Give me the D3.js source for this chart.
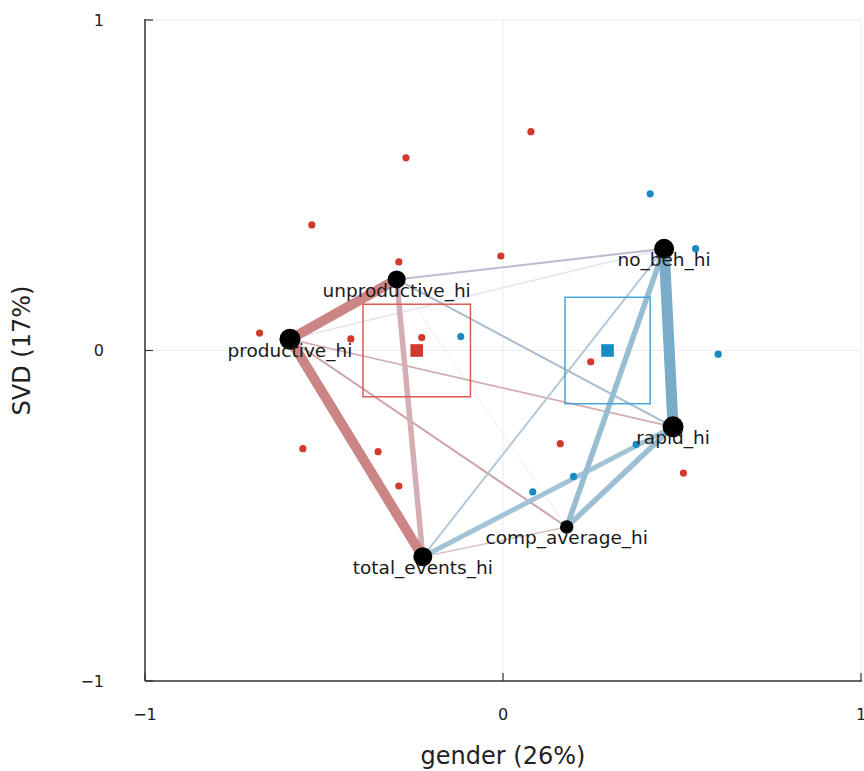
<!DOCTYPE html>
<html>
<head>
<meta charset="utf-8">
<script src="https://cdn.jsdelivr.net/npm/d3@7/dist/d3.min.js"></script>
<style>
  html, body { margin: 0; padding: 0; background: #fff; }
  svg { display: block; font-family: "DejaVu Sans", sans-serif; }
</style>
</head>
<body>
<svg id="chart" width="864" height="771"></svg>
<script>
// ---- data ----
const xTicks = [-1, 0, 1];
const yTicks = [-1, 0, 1];
const xTitle = "gender (26%)";
const yTitle = "SVD (17%)";

// variable nodes: name, x, y, size
const nodeNames = ["productive_hi", "unproductive_hi", "total_events_hi", "comp_average_hi", "rapid_hi", "no_beh_hi"];
const nodeX = [-0.595, -0.297, -0.224, 0.178, 0.475, 0.450];
const nodeY = [0.034, 0.215, -0.624, -0.534, -0.231, 0.308];
const nodeR = [10.5, 9, 9.5, 6.7, 10.5, 10];

// edges: source index, target index, width, colour
const edgeSrc = [0, 0, 1, 0, 0, 2, 1, 0, 1, 1, 2, 2, 3, 3, 5];
const edgeTgt = [1, 2, 2, 3, 4, 3, 5, 5, 4, 3, 5, 4, 5, 4, 4];
const edgeW   = [10, 10, 5.5, 2, 1.6, 1.6, 2, 1.6, 2, 1, 2, 5, 5.5, 5.5, 11];
const edgeCol = ["#cc8585", "#cc8585", "#d4aeb2", "#cca3ab", "#d2abb3", "#dcc2c6",
                 "#b9bdd0", "#e2e6ee", "#a9bccf", "#eceef2", "#b5c8d8", "#a3c3d7",
                 "#98bcd2", "#9cbfd4", "#78acc8"];

// group observations
const redX = [0.078, -0.271, -0.534, -0.291, -0.006, -0.680, -0.425, -0.227, 0.245, -0.559, -0.349, -0.291, 0.160, 0.504];
const redY = [0.662, 0.583, 0.380, 0.268, 0.286, 0.053, 0.035, 0.039, -0.034, -0.297, -0.306, -0.410, -0.282, -0.371];
const blueX = [0.411, 0.538, 0.601, -0.118, 0.372, 0.197, 0.083];
const blueY = [0.474, 0.308, -0.011, 0.042, -0.284, -0.381, -0.428];

// group centroids and boxes
const groupCx = [-0.241, 0.292];
const groupCy = [0.0, 0.0];
const groupHalfW = [0.150, 0.119];
const groupHalfH = [0.140, 0.161];
const groupCol = ["#d0392c", "#1a8ac3"];
const groupBoxCol = ["#dc5a50", "#45a6d6"];

// ---- drawing ----
const svg = d3.select("#chart");
const x = d3.scaleLinear().domain([-1, 1]).range([145, 861]);
const y = d3.scaleLinear().domain([-1, 1]).range([681, 20]);

// grid
const grid = svg.append("g");
grid.selectAll("line.gx").data(xTicks).join("line")
  .attr("x1", d => x(d)).attr("x2", d => x(d))
  .attr("y1", y(-1)).attr("y2", y(1))
  .attr("stroke", "#ececec").attr("stroke-width", 1);
grid.selectAll("line.gy").data(yTicks).join("line")
  .attr("y1", d => y(d)).attr("y2", d => y(d))
  .attr("x1", x(-1)).attr("x2", x(1))
  .attr("stroke", "#ececec").attr("stroke-width", 1);

// edges
const edges = edgeSrc.map((s, i) => ({s, t: edgeTgt[i], w: edgeW[i], c: edgeCol[i]}));
edges.sort((a, b) => a.w - b.w);
svg.append("g").selectAll("line").data(edges).join("line")
  .attr("x1", d => x(nodeX[d.s])).attr("y1", d => y(nodeY[d.s]))
  .attr("x2", d => x(nodeX[d.t])).attr("y2", d => y(nodeY[d.t]))
  .attr("stroke", d => d.c).attr("stroke-width", d => d.w)
  .attr("stroke-linecap", "butt");

// boxes
const groups = groupCx.map((cx, i) => ({cx, cy: groupCy[i], hw: groupHalfW[i], hh: groupHalfH[i], c: groupCol[i], bc: groupBoxCol[i]}));
svg.append("g").selectAll("rect").data(groups).join("rect")
  .attr("x", d => x(d.cx - d.hw)).attr("y", d => y(d.cy + d.hh))
  .attr("width", d => x(d.cx + d.hw) - x(d.cx - d.hw))
  .attr("height", d => y(d.cy - d.hh) - y(d.cy + d.hh))
  .attr("fill", "none").attr("stroke", d => d.bc).attr("stroke-width", 1.5);

// observations
const obs = svg.append("g");
obs.selectAll("circle.r").data(redX.map((v, i) => [v, redY[i]])).join("circle")
  .attr("cx", d => x(d[0])).attr("cy", d => y(d[1])).attr("r", 3.6)
  .attr("fill", groupCol[0]);
obs.selectAll("circle.b").data(blueX.map((v, i) => [v, blueY[i]])).join("circle")
  .attr("cx", d => x(d[0])).attr("cy", d => y(d[1])).attr("r", 3.6)
  .attr("fill", groupCol[1]);

// centroids
svg.append("g").selectAll("rect").data(groups).join("rect")
  .attr("x", d => x(d.cx) - 6.3).attr("y", d => y(d.cy) - 6.3)
  .attr("width", 12.6).attr("height", 12.6)
  .attr("fill", d => d.c);

// nodes
const nodes = nodeNames.map((n, i) => ({n, x: nodeX[i], y: nodeY[i], r: nodeR[i]}));
svg.append("g").selectAll("circle").data(nodes).join("circle")
  .attr("cx", d => x(d.x)).attr("cy", d => y(d.y)).attr("r", d => d.r)
  .attr("fill", "#000");
svg.append("g").selectAll("text").data(nodes).join("text")
  .attr("x", d => x(d.x)).attr("y", d => y(d.y) + 11)
  .attr("text-anchor", "middle").attr("dominant-baseline", "central")
  .attr("font-size", 18.5).attr("fill", "#1a1a1a")
  .text(d => d.n);

// axes
const fmt = d => d < 0 ? "\u2212" + Math.abs(d) : String(d);
const ax = svg.append("g");
ax.append("line").attr("x1", x(-1)).attr("x2", x(-1)).attr("y1", y(1) - 1).attr("y2", y(-1))
  .attr("stroke", "#333").attr("stroke-width", 1.5);
ax.append("line").attr("x1", x(-1)).attr("x2", x(1) + 1).attr("y1", y(-1)).attr("y2", y(-1))
  .attr("stroke", "#333").attr("stroke-width", 1.5);
ax.selectAll("line.ty").data(yTicks).join("line")
  .attr("x1", x(-1)).attr("x2", x(-1) + 8).attr("y1", d => y(d)).attr("y2", d => y(d))
  .attr("stroke", "#333").attr("stroke-width", 1.2);
ax.selectAll("line.tx").data(xTicks).join("line")
  .attr("y1", y(-1)).attr("y2", y(-1) - 8).attr("x1", d => x(d)).attr("x2", d => x(d))
  .attr("stroke", "#333").attr("stroke-width", 1.2);
ax.selectAll("text.ly").data(yTicks).join("text")
  .attr("x", 104).attr("y", d => y(d)).attr("text-anchor", "end")
  .attr("dominant-baseline", "central").attr("font-size", 16).attr("fill", "#222")
  .text(fmt);
ax.selectAll("text.lx").data(xTicks).join("text")
  .attr("x", d => x(d)).attr("y", 714).attr("text-anchor", "middle")
  .attr("dominant-baseline", "central").attr("font-size", 16).attr("fill", "#222")
  .text(fmt);

svg.append("text").attr("x", x(0)).attr("y", 756).attr("text-anchor", "middle")
  .attr("dominant-baseline", "central").attr("font-size", 24).attr("fill", "#222")
  .text(xTitle);
svg.append("text").attr("transform", `translate(22,${y(0)}) rotate(-90)`)
  .attr("text-anchor", "middle").attr("dominant-baseline", "central")
  .attr("font-size", 24).attr("fill", "#222")
  .text(yTitle);
</script>
</body>
</html>
